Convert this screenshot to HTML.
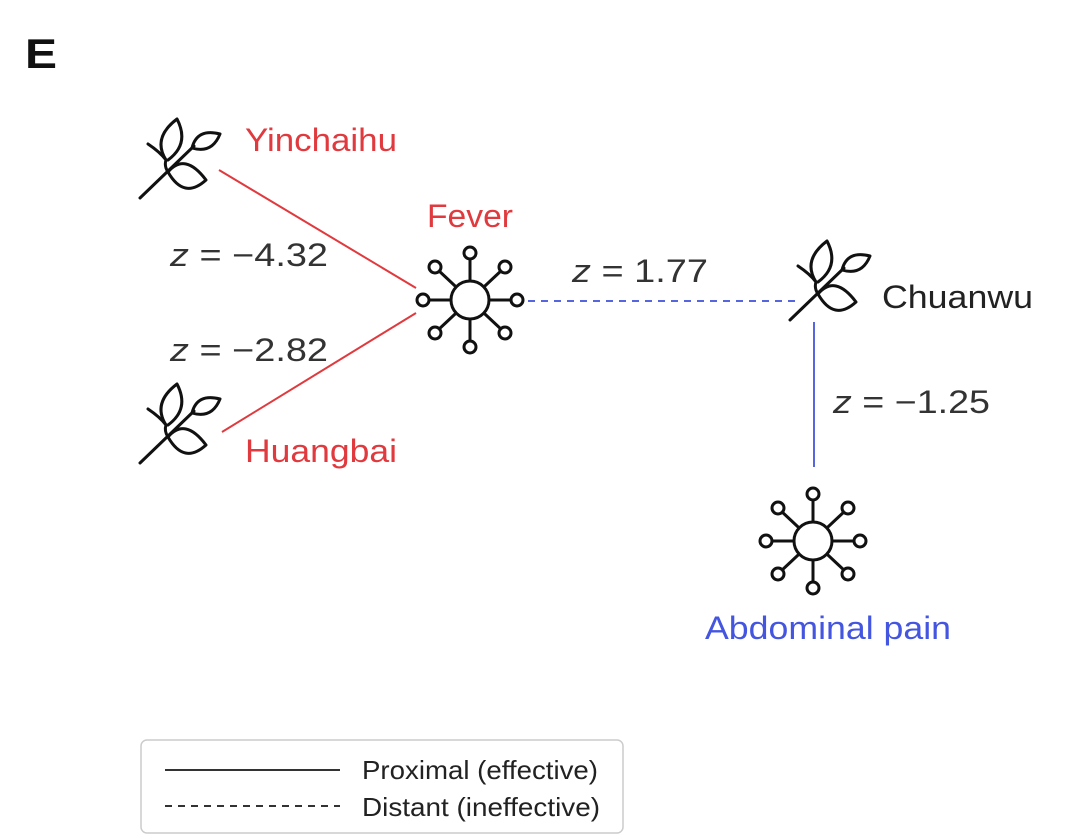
<!DOCTYPE html>
<html><head><meta charset="utf-8"><style>
html,body{margin:0;padding:0;background:#fff;}
svg{display:block;font-family:"Liberation Sans",sans-serif;}
</style></head><body>
<svg width="1080" height="840" viewBox="0 0 1080 840" xmlns="http://www.w3.org/2000/svg">
<defs>
<g id="plant" fill="none" stroke="#111" stroke-width="3" stroke-linecap="round" stroke-linejoin="round">
<path d="M0,0 L54,-52"/>
<path d="M52,-50 Q57,-70 80,-64 Q72,-44 52,-50"/>
<path d="M28,-26 Q45,-46 66,-18 Q44,2 28,-26"/>
<path d="M28,-26 Q24,-32 26,-38 Q12,-60 37,-79 Q50,-54 28,-38"/>
<path d="M8,-54 Q20,-46 26,-38"/>
</g>
<g id="node" fill="#fff" stroke="#111" stroke-width="3">
<line x1="0" y1="0" x2="0" y2="-44"/><line x1="0" y1="0" x2="0" y2="44"/>
<line x1="0" y1="0" x2="-44" y2="0"/><line x1="0" y1="0" x2="44" y2="0"/>
<line x1="0" y1="0" x2="-33" y2="-31"/><line x1="0" y1="0" x2="33" y2="-31"/>
<line x1="0" y1="0" x2="-33" y2="31"/><line x1="0" y1="0" x2="33" y2="31"/>
<circle cx="0" cy="0" r="19"/>
<circle cx="0" cy="-47" r="6"/><circle cx="0" cy="47" r="6"/>
<circle cx="-47" cy="0" r="6"/><circle cx="47" cy="0" r="6"/>
<circle cx="-35" cy="-33" r="6"/><circle cx="35" cy="-33" r="6"/>
<circle cx="-35" cy="33" r="6"/><circle cx="35" cy="33" r="6"/>
</g>
</defs>
<text x="25" y="68" font-size="42" font-weight="bold" fill="#111" textLength="32" lengthAdjust="spacingAndGlyphs">E</text>

<line x1="219" y1="170" x2="416" y2="288" stroke="#e03a3e" stroke-width="2"/>
<line x1="222" y1="432" x2="416" y2="313" stroke="#e03a3e" stroke-width="2"/>
<line x1="528" y1="301" x2="795" y2="301" stroke="#5566e0" stroke-width="2" stroke-dasharray="7,6"/>
<line x1="814" y1="322" x2="814" y2="467" stroke="#5566e0" stroke-width="2"/>

<use href="#plant" x="140" y="198"/>
<use href="#plant" x="140" y="463"/>
<use href="#plant" x="790" y="320"/>
<use href="#node" x="470" y="300"/>
<use href="#node" x="813" y="541"/>

<g font-size="32">
<text x="245" y="151" fill="#e03a3e" textLength="152" lengthAdjust="spacingAndGlyphs">Yinchaihu</text>
<text x="427" y="227" fill="#e03a3e" textLength="86" lengthAdjust="spacingAndGlyphs">Fever</text>
<text x="245" y="462" fill="#e03a3e" textLength="152" lengthAdjust="spacingAndGlyphs">Huangbai</text>
<text x="882" y="308" fill="#222" textLength="151" lengthAdjust="spacingAndGlyphs">Chuanwu</text>
<text x="705" y="639" fill="#4455e0" textLength="246" lengthAdjust="spacingAndGlyphs">Abdominal pain</text>
<text x="170" y="266" fill="#333" textLength="158" lengthAdjust="spacingAndGlyphs"><tspan font-style="italic">z</tspan> = −4.32</text>
<text x="170" y="361" fill="#333" textLength="158" lengthAdjust="spacingAndGlyphs"><tspan font-style="italic">z</tspan> = −2.82</text>
<text x="572" y="282" fill="#333" textLength="136" lengthAdjust="spacingAndGlyphs"><tspan font-style="italic">z</tspan> = 1.77</text>
<text x="833" y="413" fill="#333" textLength="157" lengthAdjust="spacingAndGlyphs"><tspan font-style="italic">z</tspan> = −1.25</text>
</g>

<rect x="141" y="740" width="482" height="93" rx="6" fill="#fff" stroke="#ccc" stroke-width="1.5"/>
<line x1="165" y1="770" x2="340" y2="770" stroke="#333" stroke-width="2"/>
<line x1="165" y1="806" x2="340" y2="806" stroke="#333" stroke-width="2" stroke-dasharray="7,6"/>
<g font-size="26" fill="#222">
<text x="362" y="779" textLength="236" lengthAdjust="spacingAndGlyphs">Proximal (effective)</text>
<text x="362" y="816" textLength="238" lengthAdjust="spacingAndGlyphs">Distant (ineffective)</text>
</g>
</svg>
</body></html>
